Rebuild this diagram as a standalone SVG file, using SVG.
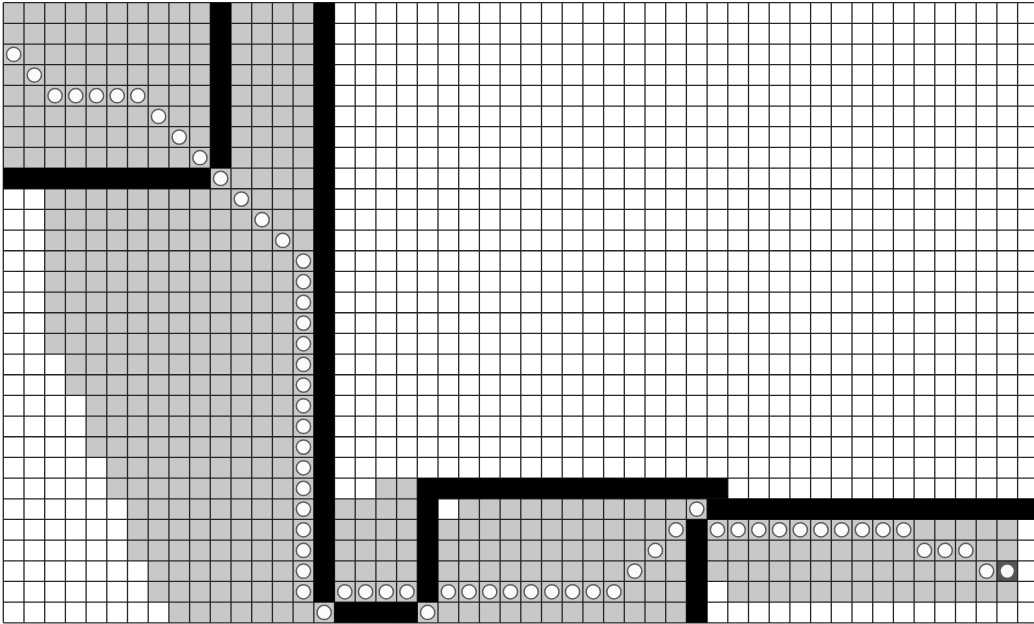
<svg xmlns="http://www.w3.org/2000/svg" xmlns:xlink="http://www.w3.org/1999/xlink" width="1034" height="624" viewBox="0 0 1034 624">
  <style>
    .v { fill: #c8c8c8; }
    .u { fill: #ffffff; }
    .w { fill: #000000; }
    .goal { fill: #555555; }
    .grid { fill: none; stroke: #262626; stroke-width: 1.3; }
    .p { fill: #fbfbfb; stroke: #606060; stroke-width: 1.5; }
  </style>
  <defs>
    <circle id="dot" class="p" cx="0.5" cy="0.5" r="0.345" vector-effect="non-scaling-stroke"/>
  </defs>
  <rect x="0" y="0" width="1034" height="624" fill="#ffffff"/>
  <g transform="translate(3.3 2.7) scale(20.7 20.67)">
    <g id="visited">
      <rect class="v" x="0" y="0" width="15" height="9"/>
      <rect class="v" x="2" y="9" width="13" height="8"/>
      <rect class="v" x="3" y="17" width="12" height="2"/>
      <rect class="v" x="4" y="19" width="11" height="3"/>
      <rect class="v" x="5" y="22" width="10" height="2"/>
      <rect class="v" x="6" y="24" width="9" height="3"/>
      <rect class="v" x="7" y="27" width="8" height="2"/>
      <rect class="v" x="8" y="29" width="8" height="1"/>
      <rect class="v" x="18" y="23" width="2" height="1"/>
      <rect class="v" x="16" y="24" width="4" height="5"/>
      <rect class="v" x="20" y="29" width="1" height="1"/>
      <rect class="v" x="21" y="24" width="12" height="6"/>
      <rect class="u" x="21" y="24" width="1" height="1"/>
      <rect class="v" x="33" y="24" width="1" height="1"/>
      <rect class="v" x="34" y="25" width="15" height="4"/>
      <rect class="u" x="34" y="28" width="1" height="1"/>
      <rect class="goal" x="48" y="27" width="1" height="1"/>
    </g>
    <path id="gridlines" class="grid" vector-effect="non-scaling-stroke" d="M0 0V30M1 0V30M2 0V30M3 0V30M4 0V30M5 0V30M6 0V30M7 0V30M8 0V30M9 0V30M10 0V30M11 0V30M12 0V30M13 0V30M14 0V30M15 0V30M16 0V30M17 0V30M18 0V30M19 0V30M20 0V30M21 0V30M22 0V30M23 0V30M24 0V30M25 0V30M26 0V30M27 0V30M28 0V30M29 0V30M30 0V30M31 0V30M32 0V30M33 0V30M34 0V30M35 0V30M36 0V30M37 0V30M38 0V30M39 0V30M40 0V30M41 0V30M42 0V30M43 0V30M44 0V30M45 0V30M46 0V30M47 0V30M48 0V30M49 0V30M50 0V30M0 0H50M0 1H50M0 2H50M0 3H50M0 4H50M0 5H50M0 6H50M0 7H50M0 8H50M0 9H50M0 10H50M0 11H50M0 12H50M0 13H50M0 14H50M0 15H50M0 16H50M0 17H50M0 18H50M0 19H50M0 20H50M0 21H50M0 22H50M0 23H50M0 24H50M0 25H50M0 26H50M0 27H50M0 28H50M0 29H50M0 30H50"/>
    <g id="walls">
      <rect class="w" x="10" y="0" width="1" height="8"/>
      <rect class="w" x="0" y="8" width="10" height="1"/>
      <rect class="w" x="15" y="0" width="1" height="29"/>
      <rect class="w" x="16" y="29" width="4" height="1"/>
      <rect class="w" x="20" y="23" width="1" height="6"/>
      <rect class="w" x="21" y="23" width="14" height="1"/>
      <rect class="w" x="33" y="25" width="1" height="5"/>
      <rect class="w" x="34" y="24" width="16" height="1"/>
    </g>
    <g id="path">
      <use xlink:href="#dot" x="0" y="2"/>
      <use xlink:href="#dot" x="1" y="3"/>
      <use xlink:href="#dot" x="2" y="4"/>
      <use xlink:href="#dot" x="3" y="4"/>
      <use xlink:href="#dot" x="4" y="4"/>
      <use xlink:href="#dot" x="5" y="4"/>
      <use xlink:href="#dot" x="6" y="4"/>
      <use xlink:href="#dot" x="7" y="5"/>
      <use xlink:href="#dot" x="8" y="6"/>
      <use xlink:href="#dot" x="9" y="7"/>
      <use xlink:href="#dot" x="10" y="8"/>
      <use xlink:href="#dot" x="11" y="9"/>
      <use xlink:href="#dot" x="12" y="10"/>
      <use xlink:href="#dot" x="13" y="11"/>
      <use xlink:href="#dot" x="14" y="12"/>
      <use xlink:href="#dot" x="14" y="13"/>
      <use xlink:href="#dot" x="14" y="14"/>
      <use xlink:href="#dot" x="14" y="15"/>
      <use xlink:href="#dot" x="14" y="16"/>
      <use xlink:href="#dot" x="14" y="17"/>
      <use xlink:href="#dot" x="14" y="18"/>
      <use xlink:href="#dot" x="14" y="19"/>
      <use xlink:href="#dot" x="14" y="20"/>
      <use xlink:href="#dot" x="14" y="21"/>
      <use xlink:href="#dot" x="14" y="22"/>
      <use xlink:href="#dot" x="14" y="23"/>
      <use xlink:href="#dot" x="14" y="24"/>
      <use xlink:href="#dot" x="14" y="25"/>
      <use xlink:href="#dot" x="14" y="26"/>
      <use xlink:href="#dot" x="14" y="27"/>
      <use xlink:href="#dot" x="14" y="28"/>
      <use xlink:href="#dot" x="15" y="29"/>
      <use xlink:href="#dot" x="16" y="28"/>
      <use xlink:href="#dot" x="17" y="28"/>
      <use xlink:href="#dot" x="18" y="28"/>
      <use xlink:href="#dot" x="19" y="28"/>
      <use xlink:href="#dot" x="20" y="29"/>
      <use xlink:href="#dot" x="21" y="28"/>
      <use xlink:href="#dot" x="22" y="28"/>
      <use xlink:href="#dot" x="23" y="28"/>
      <use xlink:href="#dot" x="24" y="28"/>
      <use xlink:href="#dot" x="25" y="28"/>
      <use xlink:href="#dot" x="26" y="28"/>
      <use xlink:href="#dot" x="27" y="28"/>
      <use xlink:href="#dot" x="28" y="28"/>
      <use xlink:href="#dot" x="29" y="28"/>
      <use xlink:href="#dot" x="30" y="27"/>
      <use xlink:href="#dot" x="31" y="26"/>
      <use xlink:href="#dot" x="32" y="25"/>
      <use xlink:href="#dot" x="33" y="24"/>
      <use xlink:href="#dot" x="34" y="25"/>
      <use xlink:href="#dot" x="35" y="25"/>
      <use xlink:href="#dot" x="36" y="25"/>
      <use xlink:href="#dot" x="37" y="25"/>
      <use xlink:href="#dot" x="38" y="25"/>
      <use xlink:href="#dot" x="39" y="25"/>
      <use xlink:href="#dot" x="40" y="25"/>
      <use xlink:href="#dot" x="41" y="25"/>
      <use xlink:href="#dot" x="42" y="25"/>
      <use xlink:href="#dot" x="43" y="25"/>
      <use xlink:href="#dot" x="44" y="26"/>
      <use xlink:href="#dot" x="45" y="26"/>
      <use xlink:href="#dot" x="46" y="26"/>
      <use xlink:href="#dot" x="47" y="27"/>
      <use xlink:href="#dot" x="48" y="27"/>
    </g>
  </g>
</svg>
